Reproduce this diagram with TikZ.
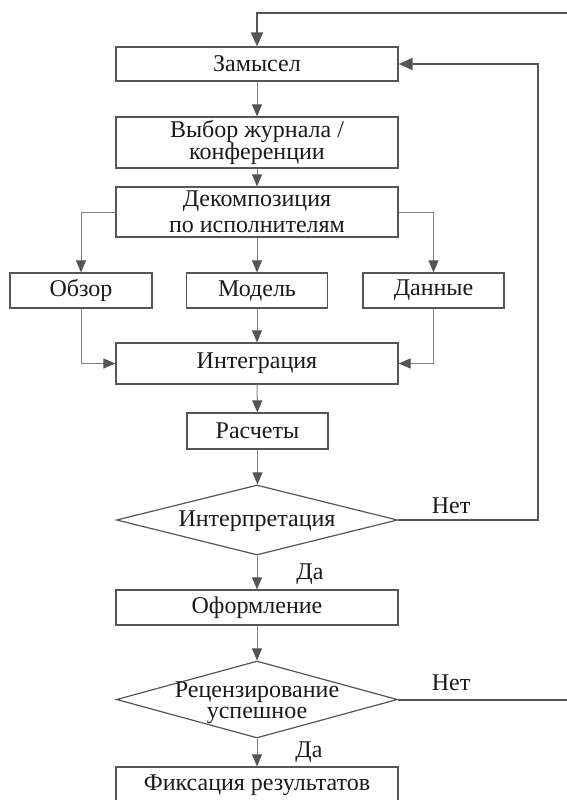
\documentclass[tikz,border=0pt]{standalone}
\usepackage{fontspec}
\setmainfont{Liberation Serif}
\usetikzlibrary{arrows.meta,shapes.geometric}
\definecolor{boxc}{HTML}{555555}
\definecolor{linec}{HTML}{808080}
\definecolor{txt}{HTML}{1A1A1A}
\begin{document}
\begin{tikzpicture}[x=1pt,y=-1pt,
  box/.style={draw=boxc, line width=1.2pt, fill=white, inner sep=0pt, text=txt,
    font=\fontsize{24}{22}\selectfont, align=center},
  dia/.style={draw=boxc, line width=1.2pt, diamond, inner sep=0pt},
  conn/.style={draw=linec, line width=1pt, -{Triangle[length=12pt,width=10pt,color=boxc]}},
  back/.style={draw=boxc, line width=2pt, -{Triangle[length=14pt,width=12pt]}},
  backline/.style={draw=boxc, line width=2pt},
  lbl/.style={font=\fontsize{24}{22}\selectfont, text=txt, inner sep=0pt}]
\useasboundingbox (0,0) rectangle (567,800);
\clip (0,0) rectangle (567,800);
\fill[white] (0,0) rectangle (567,800);

\node[box, minimum width=282pt, minimum height=34pt] (zam) at (257,64) {Замысел};
\node[box, minimum width=282pt, minimum height=51pt] (vyb) at (257,142.5) {Выбор журнала /\\конференции};
\node[box, minimum width=282pt, minimum height=50pt, font=\fontsize{24}{26}\selectfont] (dek) at (257,212) {Декомпозиция\\по исполнителям};
\node[box, minimum width=142pt, minimum height=35pt] (obz) at (81,290.5) {Обзор};
\node[box, minimum width=141pt, minimum height=35pt] (mod) at (257,290.5) {Модель};
\node[box, minimum width=141pt, minimum height=35pt] (dan) at (433.5,290.5) {Данные};
\node[box, minimum width=282pt, minimum height=41pt] (int) at (257,363.5) {Интеграция};
\node[box, minimum width=141pt, minimum height=36pt] (ras) at (257.5,431) {Расчеты};
\node[dia, minimum width=281pt, minimum height=70pt] (intp) at (257,520) {};
\node[lbl] (intpt) at (257,521) {Интерпретация};
\node[box, minimum width=282pt, minimum height=35pt] (ofo) at (257,607.5) {Оформление};
\node[dia, minimum width=281pt, minimum height=77pt] (rec) at (257,699.5) {};
\node[lbl, align=center, font=\fontsize{24}{21}\selectfont] (rect) at (257,703) {Рецензирование\\успешное};
\node[box, minimum width=282pt, minimum height=36pt] (fix) at (257,785) {Фиксация результатов};

\node[lbl] (net1) at (451,506) {Нет};
\node[lbl] (net2) at (451,683) {Нет};
\node[lbl] (da1) at (310,574) {Да};
\node[lbl] (da2) at (309,752) {Да};

\coordinate (r1) at (538,64);
\coordinate (t1) at (580,13);
\coordinate (r2) at (580,699.5);

\draw[conn] (zam) -- (vyb);
\draw[conn] (vyb) -- (dek);
\draw[conn] (dek.west) -| (obz.north);
\draw[conn] (dek) -- (mod);
\draw[conn] (dek.east) -| (dan.north);
\draw[conn] (obz.south) |- (int.west);
\draw[conn] (mod) -- (int);
\draw[conn] (dan.south) |- (int.east);
\draw[conn] (int) -- (ras);
\draw[conn] (ras.south) -- (ras.south |- intp.north);
\draw[conn] (intp) -- (ofo);
\draw[conn] (ofo) -- (rec);
\draw[conn] (rec) -- (fix);
\draw[back] (intp.east) -| (r1) -- (zam.east);
\draw[back] (t1) -| (zam.north);
\draw[backline] (rec.east) -- (r2);
\end{tikzpicture}
\end{document}
